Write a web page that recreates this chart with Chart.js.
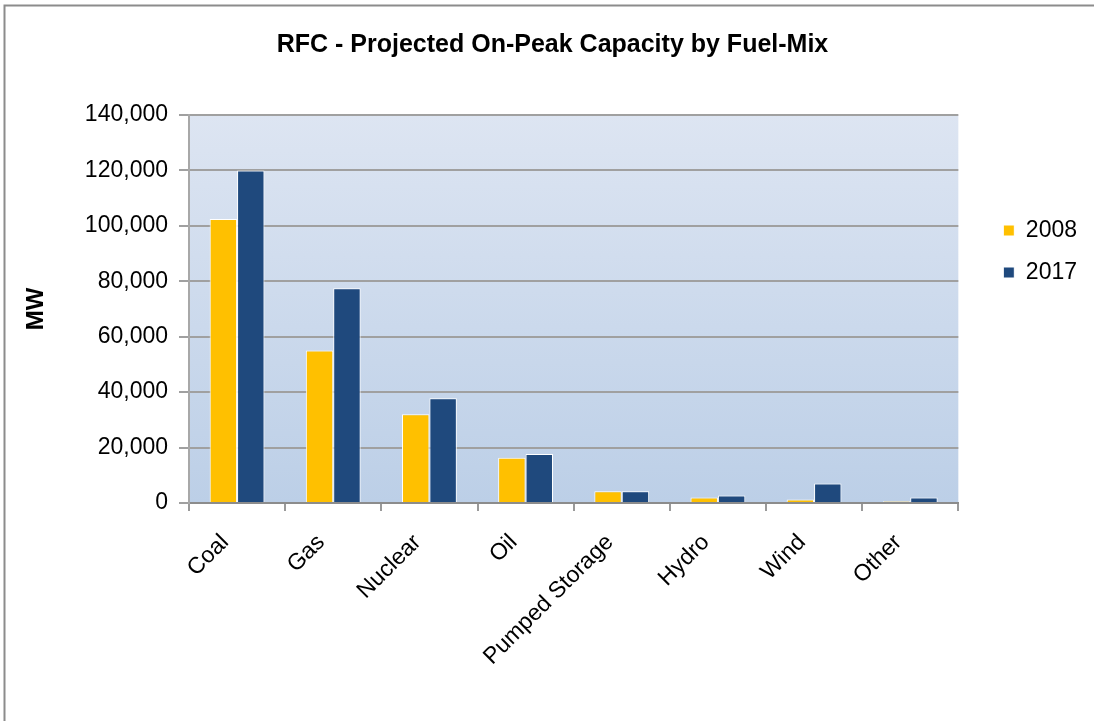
<!DOCTYPE html>
<html>
<head>
<meta charset="utf-8">
<script src="https://cdn.jsdelivr.net/npm/chart.js@4.4.1/dist/chart.umd.min.js"></script>
<style>
  html, body { margin: 0; padding: 0; background: #ffffff; }
  #wrap { width: 1094px; height: 721px; position: relative; }
</style>
</head>
<body>
<div id="wrap"><canvas id="c" width="1094" height="721"></canvas></div>
<script>
const categories = ['Coal', 'Gas', 'Nuclear', 'Oil', 'Pumped Storage', 'Hydro', 'Wind', 'Other'];
const seriesNames = ['2008', '2017'];
const values2008 = [102500, 55000, 32000, 16300, 4200, 2000, 1300, 600];
const values2017 = [120000, 77500, 37800, 17700, 4200, 2700, 7000, 2000];
const yTicks = [0, 20000, 40000, 60000, 80000, 100000, 120000, 140000];
const chartTitle = 'RFC - Projected On-Peak Capacity by Fuel-Mix';
const yAxisTitle = 'MW';

const FONT = "'Liberation Sans', Arial, sans-serif";

const plotBg = {
  id: 'plotBg',
  beforeDraw(chart) {
    const { ctx, chartArea: a } = chart;
    const g = ctx.createLinearGradient(0, a.top, 0, a.bottom);
    g.addColorStop(0, '#dde5f2');
    g.addColorStop(1, '#bccfe7');
    ctx.save();
    ctx.fillStyle = g;
    ctx.fillRect(a.left, a.top, a.right - a.left, a.bottom - a.top);
    ctx.restore();
  },
  afterDraw(chart) {
    const { ctx } = chart;
    ctx.save();
    ctx.strokeStyle = '#8c8c8c';
    ctx.lineWidth = 2;
    ctx.beginPath();
    ctx.moveTo(4.5, 721);
    ctx.lineTo(4.5, 5.5);
    ctx.lineTo(1094, 5.5);
    ctx.stroke();
    ctx.restore();
  }
};

new Chart(document.getElementById('c'), {
  type: 'bar',
  data: {
    labels: categories,
    datasets: [
      { label: seriesNames[0], data: values2008, backgroundColor: '#FFC000', borderColor: '#ffffff', borderWidth: 1 },
      { label: seriesNames[1], data: values2017, backgroundColor: '#1F497D', borderColor: '#ffffff', borderWidth: 1 }
    ]
  },
  options: {
    responsive: false,
    animation: false,
    devicePixelRatio: 1,
    layout: { padding: { left: 18, right: 7, top: 0, bottom: 0 } },
    datasets: { bar: { categoryPercentage: 0.57, barPercentage: 1.0 } },
    plugins: {
      title: {
        display: true,
        text: chartTitle,
        color: '#000',
        font: { family: FONT, size: 25, weight: 'bold' },
        padding: { top: 30, bottom: 55 }
      },
      legend: {
        display: true,
        position: 'right',
        align: 'start',
        title: { display: true, text: ' ', font: { size: 1, lineHeight: 1 }, padding: { top: 199, bottom: 0 } },
        labels: {
          color: '#000',
          font: { family: FONT, size: 23 },
          boxWidth: 11,
          boxHeight: 11,
          padding: 19
        }
      },
      tooltip: { enabled: false }
    },
    scales: {
      x: {
        offset: true,
        grid: { display: true, drawOnChartArea: false, drawTicks: true, tickLength: 8, color: '#9a9a9a', lineWidth: 2, offset: true },
        border: { display: true, color: '#8c8c8c', width: 2 },
        ticks: {
          color: '#000',
          font: { family: FONT, size: 23 },
          minRotation: 45,
          maxRotation: 45,
          autoSkip: false,
          padding: 18,
          labelOffset: -12
        },
        afterFit(scale) { scale.height = 218; }
      },
      y: {
        min: 0,
        max: 140000,
        afterBuildTicks(scale) { scale.ticks = yTicks.map(v => ({ value: v })); },
        grid: { color: '#a0a0a0', lineWidth: 2, drawTicks: true, tickLength: 10 },
        border: { display: true, color: '#a8a8a8', width: 2 },
        ticks: {
          color: '#000',
          font: { family: FONT, size: 23 },
          padding: 11,
          callback: (v) => v.toLocaleString('en-US')
        },
        title: {
          display: true,
          text: yAxisTitle,
          color: '#000',
          font: { family: FONT, size: 24, weight: 'bold' },
          padding: { top: 4, bottom: 4 }
        },
        afterFit(scale) { scale.width = 171; }
      },
      yRight: {
        position: 'right',
        display: true,
        grid: { display: false, drawTicks: false },
        border: { display: false },
        ticks: { display: false },
        afterFit(scale) { scale.width = 26; }
      }
    }
  },
  plugins: [plotBg]
});
</script>
</body>
</html>
